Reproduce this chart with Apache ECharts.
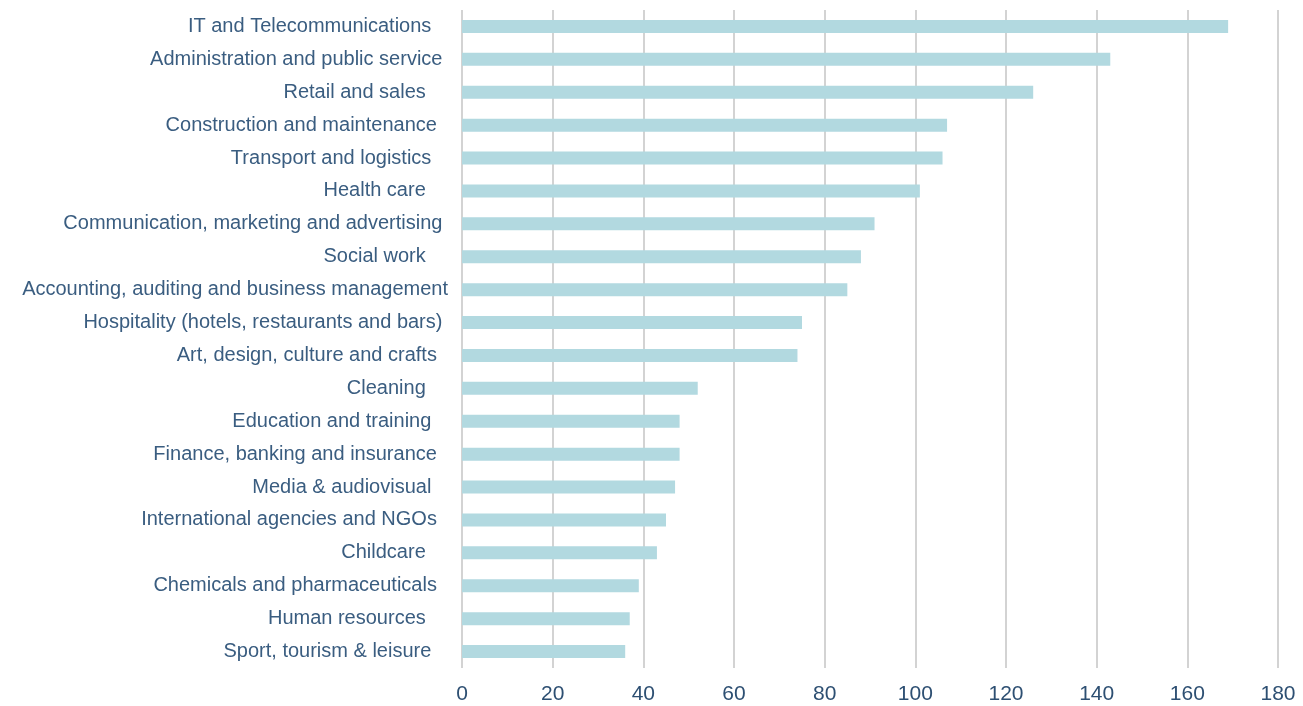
<!DOCTYPE html>
<html>
<head>
<meta charset="utf-8">
<script src="https://cdn.jsdelivr.net/npm/echarts@6/dist/echarts.min.js"></script>
<style>
  html, body { margin: 0; padding: 0; background: #ffffff; }
  #chart { width: 1303px; height: 706px; }
</style>
</head>
<body>
<div id="chart"></div>
<script>
// Sectors, listed top to bottom (trailing spaces kept as in the source labels)
const sectors = [
  'IT and Telecommunications   ',
  'Administration and public service ',
  'Retail and sales    ',
  'Construction and maintenance  ',
  'Transport and logistics   ',
  'Health care    ',
  'Communication, marketing and advertising ',
  'Social work    ',
  'Accounting, auditing and business management',
  'Hospitality (hotels, restaurants and bars) ',
  'Art, design, culture and crafts  ',
  'Cleaning    ',
  'Education and training   ',
  'Finance, banking and insurance  ',
  'Media & audiovisual   ',
  'International agencies and NGOs  ',
  'Childcare    ',
  'Chemicals and pharmaceuticals  ',
  'Human resources    ',
  'Sport, tourism & leisure   '
];

// Count per sector, same order
const counts = [169, 143, 126, 107, 106, 101, 91, 88, 85, 75, 74, 52, 48, 48, 47, 45, 43, 39, 37, 36];

// Value axis ticks
const axisMin = 0;
const axisMax = 180;
const axisStep = 20;

const chart = echarts.init(document.getElementById('chart'));
chart.setOption({
  animation: false,
  backgroundColor: '#ffffff',
  grid: { left: 462, right: 25, top: 10, bottom: 38, containLabel: false },
  xAxis: {
    type: 'value',
    min: axisMin,
    max: axisMax,
    interval: axisStep,
    axisLine: { show: false },
    axisTick: { show: false },
    axisLabel: {
      color: '#2d4f72',
      fontFamily: 'Liberation Sans, Arial, sans-serif',
      fontSize: 21,
      margin: 16
    },
    splitLine: { show: true, lineStyle: { color: '#c4c4c4', width: 1.5 } }
  },
  yAxis: {
    type: 'category',
    data: sectors,
    inverse: true,
    axisLine: { show: false },
    axisTick: { show: false },
    axisLabel: {
      color: '#3a5d80',
      fontFamily: 'Liberation Sans, Arial, sans-serif',
      fontSize: 20,
      margin: 14
    }
  },
  series: [{
    type: 'bar',
    data: counts,
    barWidth: 13,
    itemStyle: { color: '#b2d9e0' }
  }]
});
</script>
</body>
</html>
